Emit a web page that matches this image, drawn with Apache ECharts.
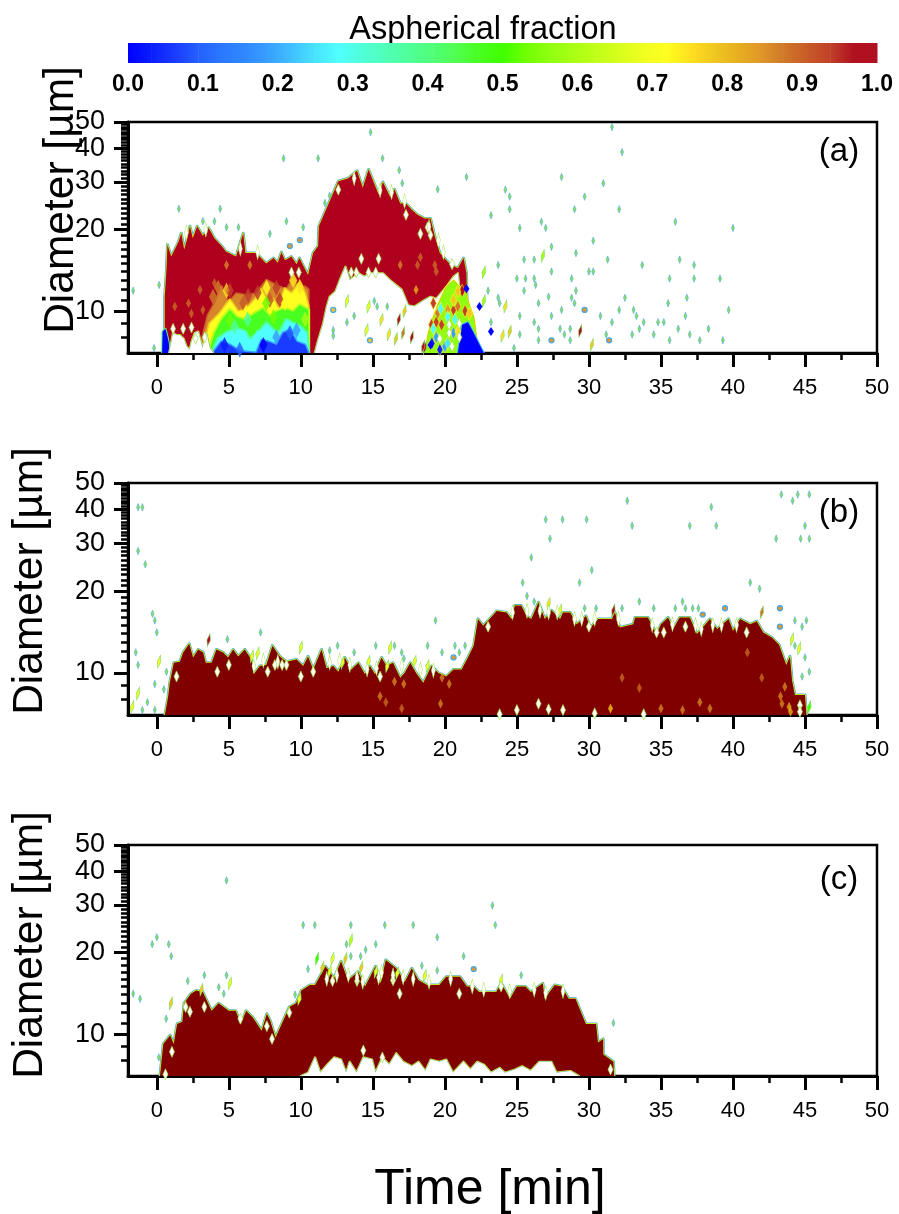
<!DOCTYPE html>
<html>
<head>
<meta charset="utf-8">
<script src="https://cdn.jsdelivr.net/npm/echarts@6/dist/echarts.min.js"></script>
<style>html,body{margin:0;background:#fff}#chart{width:899px;height:1214px}</style>
</head>
<body>
<div id="chart"></div>
<script>
// colour scale, 32 steps from 0 to 1
const barColors = ['#0000ff','#0a1eff','#1a3cff','#2460ff','#2a78ff','#3088ff','#38a0ff','#40c0ff','#48e4ff','#50ffff','#50ffd8','#50ffb8','#50ff98','#50ff78','#50ff50','#48ff20','#40ff00','#70ff00','#90ff10','#a8ff14','#c0ff18','#d8ff1c','#f0ff20','#ffff20','#ffe020','#f0c820','#e8b020','#e09828','#d07828','#c85c28','#c04028','#b01020'];
const barTicks = [0, 0.1, 0.2, 0.3, 0.4, 0.5, 0.6, 0.7, 0.8, 0.9, 1];

const timeMajor = [0, 5, 10, 15, 20, 25, 30, 35, 40, 45, 50];
const timeMinor = [2.5, 7.5, 12.5, 17.5, 22.5, 27.5, 32.5, 37.5, 42.5, 47.5];
const diaMajor = [10, 20, 30, 40, 50];
const diaTopLabel = [50];
const diaLabels = [10, 20, 30, 40];
const diaMinor = [8, 9, 11, 12, 13, 14, 15, 16, 17, 18, 19, 21, 22, 23, 24, 25, 26, 27, 28, 29, 31, 32, 33, 34, 35, 36, 37, 38, 39, 41, 42, 43, 44, 45, 46, 47, 48, 49];

// panel (a) contours: upper edge of the aspherical plume, diameter vs time
const topATime = [0.55,0.55,0.67,0.74,1.0,1.5,1.7,1.9,2.1,2.3,2.5,2.8,3.2,3.6,4.0,4.5,4.8,5.5,6.0,6.15,6.9,7.6,8.1,8.4,8.65,8.9,9.35,9.7,9.9,10.5,10.85,11.2,11.25,11.55,12.0,12.6,13.3,13.9,14.3,14.7,15.4,15.7,16.2,16.5,16.9,17.3,17.7,18.1,18.6,19.0,19.3,19.65,20.35,20.9,21.3,21.5,21.6];
const topADia = [7,11.3,14.2,17.6,15.9,18.0,19.4,16.9,18.4,20.6,18.6,20.6,19,20.3,18.6,17.4,16.6,15.9,19.4,16.4,16.4,15,15.7,15.1,16.5,15.4,15.9,14.9,15.7,13.6,16.4,17.4,20.6,22.4,25.5,30.2,31,33,28.6,33.4,27,30,26.4,28.2,25,25,23.7,22.7,22,22,18.9,16.4,14.9,14.4,15.7,13.8,7];
const holeATime = [10.97,11.2,11.55,11.8,12,12.4,12.7,13.1,13.4,14,14.4,14.8,15.7,16.2,16.6,17,17.45,17.9,18.6,19,19.4,20.1,20.6,20.9,21.5];
const holeADia = [7,7.8,9,10.4,11.3,11.8,13,14.6,13,13.8,13.4,13.8,13.8,13,12.5,12,10.5,10.4,11,11.3,11.1,12.3,13.4,13.8,7];
const gapATime = [0.86,0.95,1.13,1.37,1.6,1.87,2.06,2.29,2.41,2.64,2.87,3.17,3.45,3.68,3.91];
const gapADia = [7,7.4,8.3,8.15,8.15,7.9,7.4,7.2,7.7,8.3,8.4,7.3,8.3,7.3,7];
const edgeBlueTime = [0.37,0.4,0.6,0.75,0.86,0.9];
const edgeBlueDia = [7,8.4,8.6,8,7.5,7];
const orangeATime = [3.1,3.56,4.03,4.49,4.95,5.53,6.23,6.92,7.62,8.31,9,9.47,9.93,10.28,10.51,10.51];
const orangeADia = [7.6,9.66,10.7,12.3,10.7,11.6,11.4,11.6,13,12.4,12,13.2,12,12.3,12,7];
const yellowATime = [3.33,3.68,4.38,5.07,5.65,6.23,6.81,7.27,7.73,8.08,8.43,8.89,9.35,9.93,10.28,10.51,10.51];
const yellowADia = [7.6,9,9.8,11,9.94,10.2,11,12,10.7,11.1,10.2,12.1,11.6,12.7,11.6,10.4,7];
const greenATime = [3.68,4.03,4.49,5.07,5.53,6.11,6.81,7.38,7.85,8.31,8.89,9.47,9.93,10.51,10.51];
const greenADia = [7.3,8.3,9.26,10.1,9.5,9.26,9.8,10.2,9.5,9.94,10.2,9.94,10.5,10.1,7];
const cyanATime = [3.91,4.26,4.84,5.53,6.11,6.46,7.04,7.62,8.08,8.54,9,9.47,9.93,10.39,10.51];
const cyanADia = [7.1,7.9,8.3,8.6,8.4,7.8,8.3,9,8.5,8.3,9.26,9,8.75,8.3,7];
const blueATime = [3.91,4.49,5.07,5.76,6.92,7.27,7.73,8.31,8.77,9.24,9.7,10.28,10.51];
const blueADia = [7,7.7,7.5,7.1,7,7.8,7.7,7.5,8.3,8.5,7.7,7.5,7];
const messATime = [18.6,18.9,19.2,19.5,20.1,20.6,20.9,21.4,21.7,22,22.2,22.6];
const messADia = [7,8.5,9.5,10.5,12.3,13,12.5,11.8,10.5,9.5,7.9,7];
const messBlueTime = [20.9,21,21.2,21.6,22,22.3,22.7];
const messBlueDia = [7,7.6,8.9,9.1,8.3,7.7,7];

// loose specks: [time, diameter]
const specksA = [[-1.64,11.9],[0.16,12.5],[-0.19,7.3],[1.53,23.9],[4.4,23.9],[3.2,21.5],[4,21.5],[4.84,20.4],[5.67,20.4],[7.85,19.3],[9,21.5],[10.16,20.4],[8.8,36.7],[11.2,36.7],[14.84,45.8],[15.67,36.7],[16.83,33.2],[17.04,29.7],[19.5,28.2],[21.5,31.3],[11.67,25.1],[12,26.7],[31.6,47.9],[32.3,38.7],[28.1,31.3],[31,29.7],[24.2,28.1],[24.5,26.5],[29.7,26.5],[24.5,23.8],[29,23.8],[32.1,23.8],[23.2,22.6],[26.7,21.4],[36,21.4],[25.2,20.3],[27,20.3],[40,20.3],[30.3,18.2],[27.4,17.3],[29.1,16.4],[25.5,15.5],[26.2,15.5],[31.3,15.5],[36.3,15.5],[23.7,14.8],[33.7,14.8],[37.3,14.8],[27.4,14],[30,14],[30.3,14],[25,13.2],[25.6,13.2],[26.2,13.2],[28.8,13.2],[35.6,13.2],[37.3,13.2],[39.1,13.2],[26.3,12.5],[25.5,11.9],[29.1,11.9],[23,11.9],[27.2,11.3],[28.8,11.2],[23.7,11.2],[32.5,11.2],[36.8,11.2],[23.8,10.7],[26.5,10.7],[29,10.7],[35.5,10.7],[28.1,10.1],[32.1,10.1],[33.1,10.1],[39.7,10.1],[25.2,9.6],[27.4,9.6],[30.8,9.6],[33.3,9.6],[36.7,9.6],[26.2,9.1],[31.6,9.1],[33.8,9.1],[34.8,9.1],[35.2,9.1],[23.2,9.1],[26.5,8.6],[28,8.6],[28.7,8.6],[36.2,8.6],[38.3,8.6],[33.5,8.6],[25.2,8.2],[28.3,8.2],[31.2,8.2],[33,8.2],[34.5,8.2],[37,8.2],[26.5,7.8],[28.7,7.8],[35.6,7.8],[37.7,7.8],[39.3,7.8],[24.8,7.3],[13.2,9.1],[13.7,9.6],[12.25,8.5],[12.25,8.1],[15.1,10.9],[16,10.4],[15.3,10.4]];
// [time, diameter, fraction]
const streaksA = [[26.8,16,0.6],[24,8.1,0.75],[24.5,8.4,0.8],[30.2,7.5,0.8],[24.2,10.4,0.75],[22.7,13.9,0.6],[22.7,10.9,0.6],[29.4,8.45,1],[13.2,10.9,0.7],[14.7,10.4,0.7],[14.56,8.5,0.7],[15.6,9.3,0.75],[16.1,8.2,0.75],[16.8,9.3,1],[17.2,10,0.8],[17.1,8.3,0.9],[16.6,7.9,0.8],[17.7,8,1],[18.6,7.3,1],[18.5,7.4,1]];
const ringsA = [[29.7,10.1,0.85],[27.4,7.8,0.85],[31.4,7.8,0.85],[9.93,18.3,0.85],[9.24,17.4,0.85],[14.8,7.8,0.8],[12.25,10.1,0.8]];
const holesA = [[12.6,28.1],[17.3,22.7],[18.3,19.3],[18.8,20.4],[19,19.1],[20.5,14.9],[14.2,15.6],[15.4,15.6],[13.5,13.9],[13.85,13.9],[14.7,13.9],[15.2,13.9],[9.35,13.9],[9.86,13.9],[1.13,8.6],[1.83,8.6],[2.41,8.7],[2.7,7.9],[3.33,8],[19.65,7.9],[20.3,8.3],[21,8],[21,9],[20.5,7.4],[20.3,8.9]];
const notchesA = [[16.3,27.5],[17.2,25.5],[18.9,20.5],[19.9,16.5],[19.55,18.3],[5.8,17],[7,16.5],[2.05,19.5],[3.4,20],[13.7,31],[15.5,28]];
const darkA = [[22.4,10.4],[23.2,8.4],[21.5,12.1],[19,7.5]];
const spotsA = [[4.84,14.8,0.85],[6.46,14.8,0.85],[16.9,14.8,0.85],[18,12,0.8],[19.3,14.8,0.9],[19.4,14,0.9],[18.1,14.8,0.9],[18.3,15.8,0.9],[4,12.7,0.9],[4.84,12,0.85],[3,12,0.9],[2.2,10.7,0.9],[2.4,9.8,0.9],[1.25,10.4,0.9],[3.2,10.1,0.9]];
// mottling across the colour bands of the left plume
const mottleA = [[4.26,12.2,0.88],[3.9,11.3,0.88],[4.84,11.9,0.75],[7.62,12.2,0.72],[9.47,13,0.75],[9.93,12.3,0.75],[6.34,11.4,0.95],[8.3,12.2,0.95],[7,11.7,0.95],[8.54,11,0.95],[7.85,11,0.92],[6,10.7,0.92],[5.07,11.9,0.95],[8.9,10.7,0.72],[9.47,11,0.72],[6.2,9.9,0.72],[7.6,10.7,0.55],[9.24,8.3,0.1],[7.4,7.5,0.02],[9,7.7,0.08],[4.7,7.5,0.05],[5.76,7.2,0.1],[8.3,8,0.2],[9.7,8.5,0.2],[7,8,0.3],[6.3,9.3,0.4],[8.1,9.5,0.55],[5.07,9.26,0.55],[5.4,8.75,0.4],[10.3,9.3,0.6]];
const messSpotsA = [[19.2,10.7,0.95],[19.5,9.8,0.9],[19.07,8.9,0.95],[19.4,9.1,0.95],[19.7,10.2,0.3],[20.2,10.1,0.85],[20.2,9.5,0.3],[19.77,8.9,0.95],[20.6,10.1,0.95],[20.9,10.4,0.9],[20.6,11,0.8],[21.2,11.9,1],[20.9,11.8,0.8],[21.4,10,0.95],[21.7,9.8,0.8],[20.7,9.3,0.3],[19.2,8.6,0.3],[20,7.4,0.2],[20.6,8.3,0.2],[20.2,7.6,0.25],[20.9,8.4,0.75],[19.4,8,0.2],[19.1,7.6,0.05],[19.65,7.2,0.05]];

// panel (b)
const topBTime = [0.56,0.79,0.9,1.18,1.6,1.83,2.25,2.52,2.87,3.22,3.4,3.8,4.14,4.6,4.95,5.3,5.65,6.1,6.57,6.74,7.15,7.6,8.03,8.54,9,9.7,10.16,10.5,10.86,11.44,11.78,12.25,12.6,13.05,13.5,14,14.44,14.8,15.14,15.6,15.95,16.4,16.9,17.2,17.6,18,18.5,19.07,19.54,20.1,20.6,21.16,21.6,22,22.3,22.66,23.1,23.6,24.28,24.63,24.86,25.3,25.67,26,26.5,26.94,27.4,28,28.2,28.7,29.15,29.8,30.1,30.65,31.6,31.8,32.15,33.08,33.2,34.1,34.7,35,35.5,35.85,36.3,37,37.5,37.9,38.4,38.9,39.7,40,40.5,41.2,41.65,42.1,42.7,43.2,43.7,43.96,44.1,44.3,45,45.1];
const topBDia = [7,8.2,9.2,10.9,11,11.9,12.8,11.4,12.2,11.9,10.9,10.9,12.2,11.9,11.4,12.2,11.5,12.2,11.2,9.9,10.6,10.7,12.6,11.5,11,11.2,10.6,11.5,10.3,12.2,10.4,10.6,10.1,11.4,10.3,10.9,9.9,10.6,9.9,11.4,10.6,10.9,9.6,10,10.9,10,9.2,10.6,10,9.7,10.3,10.3,11.4,12.6,15.8,14.9,15.8,16.9,16.7,15.8,17.7,17.7,16.2,15.8,18.2,15.8,17,15.8,16.7,16.7,15.1,16.2,14.7,15.8,15.8,16.7,14.7,15.1,16,16,13.9,15.1,16,14.5,16,16,13.9,14.7,15.8,14.5,15.8,14.3,15.8,15.1,15.5,14.1,13.5,12.7,10.7,11.5,9.4,8.3,8.3,7];
const specksB = [[32.66,43],[43.36,45.4],[44.5,45.4],[45.3,45.4],[44.14,43],[38.5,40.8],[27,36.7],[28.17,36.7],[29.84,36.7],[33,34.8],[37,34.8],[38.84,34.8],[45,34.8],[27.3,31.2],[43,31.2],[44.7,31.2],[45.3,31.2],[26,26.6],[30.2,23.9],[25.4,21.5],[29.35,21.5],[41.2,21.5],[41.85,20.4],[25.7,19.2],[26.2,18.3],[33.5,18.3],[36.5,18.3],[29.7,17.3],[30.5,17.3],[32.3,17.3],[34.5,17.3],[36,17.3],[36.7,17.3],[37.2,17.3],[37.6,17.3],[44.3,15.6],[45.1,15.6],[44.8,14.8],[45,11.4],[45.3,10.1],[44.8,9.7],[44.3,12.6],[-0.3,16.5],[-0.14,15.6],[0,14.1],[-1.46,11.9],[-1.3,10.7],[0.67,10.1],[-0.14,9.1],[0.49,8.7],[-1,7.3],[-0.65,7.8],[-0.14,7.3],[4.9,13.3],[7.2,14.1],[12,12.1],[12.55,12.6],[13.7,11.9],[15.2,12.6],[16.5,12.6],[17,11.9],[17.15,11.3],[18.8,12.6],[19.35,15.6],[19.8,11.9],[20.7,12.6],[21,11.9],[21.4,12.6],[-1.3,40.7],[-1,40.7],[-1.3,28.1],[-0.8,25.1]];
const streaksB = [[0.16,11,0.7],[-1.3,8.4,0.7],[-1.7,7.5,0.7],[3.6,13.2,1],[10,12.4,0.7],[16.2,12.4,0.7],[44.6,12.3,0.7],[44.1,13.3,0.7],[45.3,7.5,0.5],[31.7,17,1],[27.2,18,0.75],[42,16.7,0.9],[28,17,0.7],[7,11.8,0.7],[6.6,11.5,0.7],[12.9,10.9,0.7],[14.7,11,0.7],[16,10.6,0.7],[17.9,11,0.7],[18.8,10.6,0.7]];
const ringsB = [[39.45,17.3,0.85],[43.26,17.3,0.85],[37.9,16.4,0.85],[43.26,14.8,0.85],[20.6,11.4,0.85]];
const holesB = [[1.37,9.7],[4.2,10.1],[5,10.7],[7.7,10.1],[8.2,10.7],[8.7,10.7],[9,10.7],[10,9.7],[10.86,10.1],[15.5,9.7],[23,14.8],[30,14.8],[34.7,14.1],[35.2,14.1],[36.7,14.8],[40.95,14.1],[23.8,7.05],[25,7.3],[26.5,7.7],[27.2,7.35],[28.2,7.3],[30.4,7.1],[33.8,7.05],[44.65,7.6],[44.65,7.2]];
const notchesB = [[6.74,10.6],[7.4,11.1],[8.4,11],[12,10.9],[12.7,11.1],[13.4,10.7],[14.6,10.3],[15.25,10.4],[17,10.6],[18.3,10.3],[19.2,10.2],[24.7,16.7],[25.7,16.9],[26.6,16.9],[27.2,16.7],[27.8,16.7],[29,15.8],[29.5,15.8],[30.4,15.8],[32.05,15.8],[34.4,15],[35.8,15.1],[37.4,15],[37.8,14.5],[38.6,15],[39.2,15],[40.25,15]];
const spotsB = [[16.5,9.3,0.85],[17.15,9.1,0.85],[19.8,9.6,0.85],[20.3,9.1,0.85],[19.7,7.7,0.85],[15.5,8.2,0.85],[15.9,7.8,0.9],[17,7.4,0.9],[32.3,9.6,0.9],[41,11.9,0.9],[42,9.6,0.9],[37.7,7.8,0.85],[38.4,7.4,0.85],[36.5,7.3,0.85],[35,7.4,0.85],[33.5,8.8,0.9],[43.3,8.2,0.85],[43.6,8.9,0.85],[43.4,7.7,0.85],[43.9,7.5,0.8],[31.5,7.4,0.75],[44,7.2,0.8]];

// panel (c)
const topCTime = [0.22,0.45,0.93,1.17,1.41,1.77,1.89,2.37,2.73,3.2,3.8,4.29,5,5.48,5.84,6.2,6.68,7.28,7.64,7.88,8.24,9.2,9.67,10.03,10.63,10.99,11.71,12.31,12.79,13.27,13.98,14.46,15.18,15.54,15.9,16.62,17.22,17.7,18.18,18.77,19.61,20.09,21.05,21.53,22,22.37,23.2,23.56,23.92,24.52,25,25.6,25.96,26.8,26.92,27.63,28.11,28.6,29.07,29.79,30.5,30.63,30.99,31,31.7,31.75];
const topCDia = [7,9.2,9.9,9.2,10.9,11.1,13,14.1,14.5,14.3,12.2,13,12.2,12.2,10.9,12.2,11.5,10.3,11.9,11.2,9.7,12.6,13,14.5,15.2,15.2,17.8,16.1,18.6,15.8,17,15,17.8,15.4,18.8,17.5,15.6,17.5,15.8,15.2,15.2,16.3,16.3,15,15,14.3,14.3,14.3,15.4,13.5,15,15,14.3,15.4,13.5,15.2,15,13.5,13.5,10.9,10.9,9.3,9.6,8.4,7.9,7];
const holeCTime = [10,10.51,10.99,11.35,11.83,12.31,12.79,13.15,13.39,13.86,14.34,14.94,15.18,15.66,16.14,16.62,17.1,17.7,18.18,18.65,19.01,19.61,20.09,20.57,21.29,21.77,22.25,22.72,23.2,23.8,24.16,24.88,25.36,25.96,26.56,27.39,27.75,28.71,29.31];
const holeCDia = [7,7.2,8.2,7.2,7.7,8.2,8.05,7.2,7.9,7.2,8.2,8.05,7.2,8.2,7.7,8.5,7.9,7.6,7.9,7.3,8.05,7.9,8.05,7.2,7.9,7.4,7.9,7.7,7.2,7.5,7.2,7.4,7.6,7.3,7.9,7.9,7.2,7.3,7];
const specksC = [[4.84,37],[0,22.8],[-0.32,21.5],[0.83,21.5],[1,19.4],[10.16,25.3],[10.97,25.3],[13.47,25.3],[15.83,25.3],[17.8,25.3],[23.3,29.9],[23.5,25.3],[19.47,22.8],[13.17,21.5],[15.2,21.5],[14.5,20.5],[21.3,19.4],[13.47,19.4],[14.15,19.4],[10.5,17.4],[18.4,17.9],[25.3,16.5],[19.47,17.2],[3.3,16.5],[4.84,16.5],[2.15,15.7],[4.3,14.9],[4.65,14.1],[9.6,14],[-1.64,14.1],[-1.16,13.5],[0.14,8.2],[0.65,11.4],[31.7,11]];
const streaksC = [[13.47,22.2,0.65],[11.13,19,0.5],[12.2,19,0.7],[13.1,19,0.8],[5.07,15.4,0.7],[11.5,17.6,0.8],[0.98,13,0.8],[3.1,14.6,0.8],[12,17,0.7],[14.2,17.6,0.8],[15.2,17,0.7],[16.7,16.8,0.7],[18.6,16.4,0.7],[23.9,15.8,0.7],[9.9,13.5,0.7]];
const ringsC = [[22,17.4,0.85]];
const holesC = [[1.05,8.6],[2.3,12.1],[3.3,12.6],[2,12.6],[5.8,11.4],[7.64,10.7],[8,9.6],[9.2,12],[12.2,15.7],[13.9,15.7],[16.4,15.8],[16.86,14.1],[21,14.1],[23.9,15],[31.5,7.4],[14.34,8.7],[15.66,8.2],[0.6,7.1]];
const notchesC = [[11.8,16],[12.5,16.5],[13.3,16.5],[13.9,16.2],[14.3,15.6],[15.4,16.2],[15.6,16.9],[16.4,16.5],[17.1,16.2],[17.8,16],[18.9,15.6],[20.4,16],[21.9,15],[22.7,14.6],[24.5,14.4],[26.2,14.6],[27,14.2],[28.2,14.4]];

const labelFont = 'Liberation Sans, Arial, sans-serif';
const redA = '#af001e';
const redB = '#800000';
const grids = [
  { left: 128, top: 43, width: 749, height: 20 },
  { left: 128, top: 122, width: 749, height: 231, show: true, borderColor: '#000', borderWidth: 2.5 },
  { left: 128, top: 483, width: 749, height: 232, show: true, borderColor: '#000', borderWidth: 2.5 },
  { left: 128, top: 845, width: 749, height: 231, show: true, borderColor: '#000', borderWidth: 2.5 }
];

function colorAt(f) {
  return barColors[Math.min(31, Math.floor(f * 32))];
}

// filled region under a contour edge, closed along the bottom of the panel
function contour(panel, times, dias, fill, strokes) {
  return {
    type: 'custom', xAxisIndex: 1 + (panel - 1) * 2, yAxisIndex: 1 + (panel - 1) * 2,
    coordinateSystem: 'cartesian2d', clip: true, silent: true, animation: false,
    encode: { x: 0, y: 1 },
    data: times.map((t, i) => [t, dias[i]]),
    renderItem(params, api) {
      if (params.dataIndex !== 0) return null;
      const pts = times.map((t, i) => api.coord([t, dias[i]]));
      const shape = { points: [api.coord([times[0], 7]), ...pts, api.coord([times[times.length - 1], 7])] };
      const children = strokes.map(s => ({
        type: 'polygon', shape, style: { fill: 'none', stroke: s[0], lineWidth: s[1], lineJoin: 'round' }
      }));
      children.push({ type: 'polygon', shape, style: { fill } });
      return { type: 'group', children };
    }
  };
}

function dots(panel, data, style) {
  return {
    type: 'scatter', xAxisIndex: 1 + (panel - 1) * 2, yAxisIndex: 1 + (panel - 1) * 2,
    symbol: style.symbol || 'diamond', symbolSize: style.size, symbolRotate: style.rotate || 0,
    silent: true, animation: false, clip: true, data,
    itemStyle: {
      color: style.color || (p => colorAt(p.data[2])),
      borderColor: style.border, borderWidth: style.borderWidth || 0, opacity: style.opacity || 1
    }
  };
}

const rim = [['#4aa8e8', 3], ['#9be03c', 1.8], ['#dcea1a', 1]];
const holeRim = [['#dcea1a', 2.2], ['#4aa8e8', 0.8]];
const speck = { size: [3, 7.5], color: '#86e05a', border: '#4aa8e8', borderWidth: 0.5 };
const streak = { size: [3.5, 13], rotate: -12, border: '#7fdc6a', borderWidth: 0.8 };
const ring = { symbol: 'circle', size: [5, 5], border: '#4aa8e8', borderWidth: 1.3 };
const hole = { size: [5, 11], color: '#fff', border: '#9be03c', borderWidth: 0.6 };
const notch = { size: [4, 15], color: '#fff', border: '#9be03c', borderWidth: 0.6 };
const spot = { size: [5, 10], opacity: 0.7 };
const mottle = { size: [8, 16], opacity: 0.85 };

const series = [
  // colour bar, each step fades into the next one
  {
    type: 'custom', xAxisIndex: 0, yAxisIndex: 0, silent: true, animation: false,
    encode: { x: 0 },
    data: barColors.map((c, i) => [i / 32, (i + 1) / 32]),
    renderItem(params, api) {
      const i = params.dataIndex;
      const a = api.coord([api.value(0), 0]);
      const b = api.coord([api.value(1), 1]);
      const fill = new echarts.graphic.LinearGradient(0, 0, 1, 0, [
        { offset: 0, color: barColors[i] },
        { offset: 1, color: barColors[Math.min(31, i + 1)] }
      ]);
      return { type: 'rect', shape: { x: a[0], y: b[1], width: b[0] - a[0] + 0.5, height: a[1] - b[1] }, style: { fill } };
    }
  },
  // (a)
  contour(1, topATime, topADia, redA, rim),
  contour(1, holeATime, holeADia, '#fff', holeRim),
  contour(1, edgeBlueTime, edgeBlueDia, '#0000ff', [['#50ff78', 2]]),
  contour(1, orangeATime, orangeADia, '#d8862c', [['#c85c28', 3]]),
  contour(1, yellowATime, yellowADia, '#ffff20', [['#f0c820', 3]]),
  contour(1, greenATime, greenADia, '#48ff20', [['#b8ff18', 4]]),
  contour(1, cyanATime, cyanADia, '#50ffff', [['#50ffa0', 4]]),
  contour(1, blueATime, blueADia, '#1a3cff', [['#38a0ff', 3]]),
  dots(1, mottleA, mottle),
  contour(1, gapATime, gapADia, '#fff', holeRim),
  contour(1, messATime, messADia, '#90ff10', [['#ffff20', 2], ['#c04028', 0.5]]),
  contour(1, messBlueTime, messBlueDia, '#0000ff', [['#40c0ff', 2]]),
  dots(1, messSpotsA, { size: [6, 13], border: '#ffff20', borderWidth: 0.5 }),
  dots(1, spotsA, spot),
  dots(1, specksA, speck),
  dots(1, streaksA, streak),
  dots(1, ringsA, ring),
  dots(1, holesA, hole),
  dots(1, notchesA, notch),
  dots(1, darkA, { size: [6, 9], color: '#0000ff' }),
  // (b)
  contour(2, topBTime, topBDia, redB, rim),
  dots(2, spotsB, spot),
  dots(2, specksB, speck),
  dots(2, streaksB, streak),
  dots(2, ringsB, ring),
  dots(2, holesB, hole),
  dots(2, notchesB, notch),
  // (c)
  contour(3, topCTime, topCDia, redB, rim),
  contour(3, holeCTime, holeCDia, '#fff', holeRim),
  dots(3, specksC, speck),
  dots(3, streaksC, streak),
  dots(3, ringsC, ring),
  dots(3, holesC, hole),
  dots(3, notchesC, notch)
];

// bar axis first, then a major and a minor axis for every panel
const xAxes = [{
  gridIndex: 0, type: 'value', min: 0, max: 1, position: 'bottom',
  axisLine: { show: false }, axisTick: { show: false }, splitLine: { show: false },
  axisLabel: { customValues: barTicks, formatter: v => v.toFixed(1), fontFamily: labelFont, fontWeight: 'bold', fontSize: 23, color: '#000', margin: 10, hideOverlap: false }
}];
const yAxes = [{ gridIndex: 0, type: 'value', min: 0, max: 1, show: false }];

[1, 2, 3].forEach(g => {
  const lineStyle = { color: '#000', width: 3 };
  const diaLabelStyle = { showMinLabel: true, showMaxLabel: true, fontFamily: labelFont, fontSize: 27, color: '#000', margin: 23 };
  xAxes.push({
    gridIndex: g, type: 'value', min: -2, max: 50, position: 'bottom',
    axisLine: { show: true, onZero: false, lineStyle }, splitLine: { show: false },
    axisTick: { show: true, length: 14, customValues: timeMajor, lineStyle },
    axisLabel: { customValues: timeMajor, showMinLabel: true, showMaxLabel: true, fontFamily: labelFont, fontSize: 22, color: '#000', margin: 24 }
  }, {
    gridIndex: g, type: 'value', min: -2, max: 50, position: 'bottom',
    axisLine: { show: false, onZero: false }, splitLine: { show: false }, axisLabel: { show: false },
    axisTick: { show: true, length: 7, customValues: timeMinor, lineStyle: { color: '#000', width: 2.5 } }
  });
  // 40 and 50 sit too close for one axis, the library drops one of them, so 50 gets labelled on the other axis
  yAxes.push({
    gridIndex: g, type: 'log', logBase: 10, min: 7, max: 50.01, position: 'left',
    axisLine: { show: true, onZero: false, lineStyle }, splitLine: { show: false },
    axisTick: { show: true, length: 14, customValues: diaMajor, lineStyle },
    axisLabel: { customValues: diaTopLabel, ...diaLabelStyle }
  }, {
    gridIndex: g, type: 'log', logBase: 10, min: 7, max: 50.01, position: 'left',
    axisLine: { show: false, onZero: false }, splitLine: { show: false },
    axisLabel: { customValues: diaLabels, ...diaLabelStyle },
    axisTick: { show: true, length: 7, customValues: diaMinor, lineStyle: { color: '#000', width: 2.5 } }
  });
});

function label(text, x, y, size, rotation) {
  return {
    type: 'text', x, y, rotation: rotation || 0, silent: true,
    style: { text, fontFamily: labelFont, fontSize: size, fill: '#000', align: 'center', verticalAlign: 'middle' }
  };
}

const chart = echarts.init(document.getElementById('chart'));
chart.setOption({
  animation: false,
  backgroundColor: '#fff',
  grid: grids,
  xAxis: xAxes,
  yAxis: yAxes,
  series,
  graphic: [
    label('Aspherical fraction', 483, 30, 32.5),
    label('Time [min]', 490, 1190, 50),
    label('(a)', 839, 152, 33),
    label('(b)', 839, 513, 33),
    label('(c)', 839, 880, 33),
    label('Diameter [\u00b5m]', 61, 200, 42.5, Math.PI / 2),
    label('Diameter [\u00b5m]', 30, 581, 42.5, Math.PI / 2),
    label('Diameter [\u00b5m]', 30, 945, 42.5, Math.PI / 2)
  ]
});
window.addEventListener('resize', () => chart.resize());
</script>
</body>
</html>
